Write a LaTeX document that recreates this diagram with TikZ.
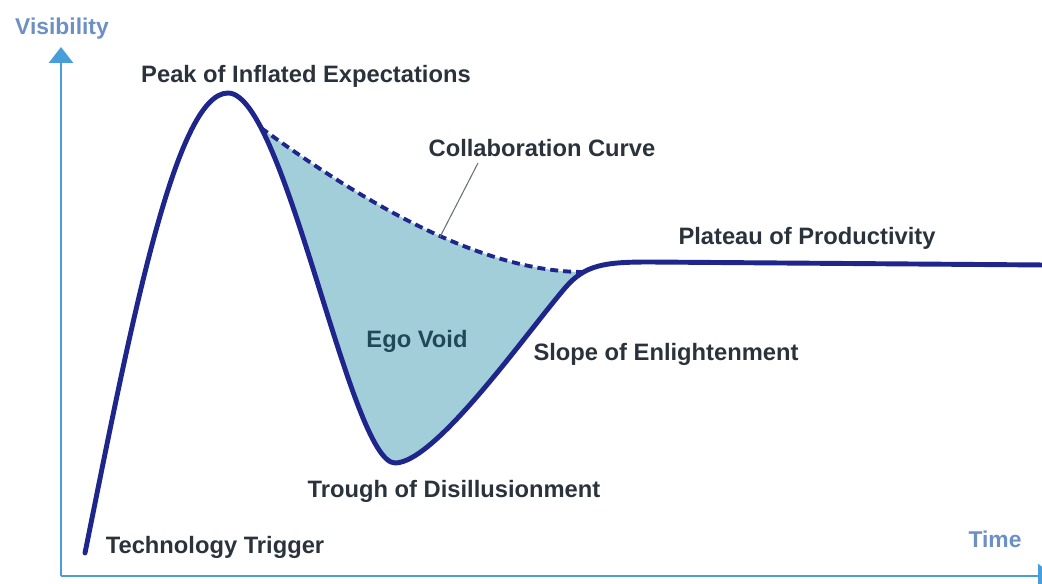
\documentclass[tikz,border=0pt]{standalone}
\usepackage{fontspec}
\setmainfont{Liberation Sans}
\usepackage{tikz}
\usetikzlibrary{arrows.meta,positioning}
\definecolor{axisblue}{RGB}{72,158,218}
\definecolor{labelblue}{RGB}{108,144,198}
\definecolor{curvenavy}{RGB}{30,38,140}
\definecolor{voidfill}{RGB}{162,206,218}
\definecolor{textdark}{RGB}{42,50,60}
\definecolor{voidtext}{RGB}{32,72,88}

\begin{document}
\begin{tikzpicture}[x=0.02cm, y=-0.02cm,
    phase/.style={textdark, anchor=base, inner sep=0pt, font=\bfseries\fontsize{13.5}{16}\selectfont},
    axislabel/.style={labelblue, anchor=base, inner sep=0pt, font=\bfseries\fontsize{13}{16}\selectfont},
    axisline/.style={axisblue, line width=1.6pt, -{Triangle[length=0.32cm,width=0.48cm]}},
    hype/.style={curvenavy, line width=2.8pt, line cap=round, line join=round}]
    \useasboundingbox (0,0) rectangle (1042,584);

    % Key points of the curve
    \coordinate (origin) at (61,576);
    \coordinate (ytip) at (61,47);
    \coordinate (xtip) at (1054,576);
    \coordinate (start) at (85,553);
    \coordinate (peak) at (228,93);
    \coordinate (trough) at (395,463);
    \coordinate (rise) at (565,288);
    \coordinate (plat) at (650,262);
    \coordinate (platend) at (1045,265);
    \path (peak) .. controls (285,93) and (350,463) .. coordinate[pos=0.19] (split) (trough);
    \path (rise) .. controls (585,264.5) and (605,262) .. coordinate[pos=0.3] (join) (plat);

    % Shaded area between the two curves
    \begin{scope}
        \clip (split) .. controls (360,200) and (480,272) .. (join) -- (600,600) -- (250,600) -- (250,125) -- cycle;
        \fill[voidfill] (peak) .. controls (285,93) and (350,463) .. (trough)
            .. controls (435,463) and (525,335) .. (rise)
            .. controls (585,264.5) and (605,262) .. (plat) -- cycle;
    \end{scope}

    % Axes
    \draw[axisline] (origin) -- (ytip);
    \draw[axisline] (origin) -- (xtip);

    % Curves
    \draw[curvenavy, line width=2.2pt, dash pattern=on 0.16cm off 0.1cm] (split) .. controls (360,200) and (480,272) .. (join);
    \draw[hype] (start) .. controls (130,330) and (175,93) .. (peak)
        .. controls (285,93) and (350,463) .. (trough)
        .. controls (435,463) and (525,335) .. (rise)
        .. controls (585,264.5) and (605,262) .. (plat) -- (platend);

    % Labels
    \node[axislabel] (visibility) at (62,35) {Visibility};
    \node[axislabel] (time) at (995,547) {Time};
    \node[phase] (peaklabel) at (306,83) {Peak of Inflated Expectations};
    \node[phase] (collab) at (542,157) {Collaboration Curve};
    \node[phase] (plateau) at (807,245) {Plateau of Productivity};
    \node[phase] (slope) at (666,360) {Slope of Enlightenment};
    \node[phase, voidtext] (egovoid) at (417,348) {Ego Void};
    \node[phase] (troughlabel) at (454,497) {Trough of Disillusionment};
    \node[phase] (trigger) at (215,553) {Technology Trigger};

    % Leader to the dashed curve
    \coordinate (leadtop) at (478,163);
    \coordinate (leadbot) at (440,237);
    \draw[textdark!70, line width=0.6pt] (leadtop) -- (leadbot);
\end{tikzpicture}
\end{document}
